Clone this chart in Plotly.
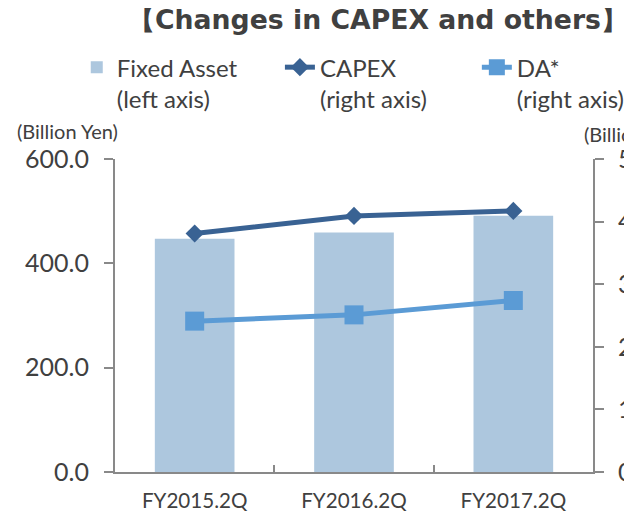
import plotly.graph_objects as go

periods = ["FY2015.2Q", "FY2016.2Q", "FY2017.2Q"]
fixed_asset = [447, 459, 491]   # left axis, billion yen
capex = [38.1, 40.9, 41.7]      # right axis, billion yen
da = [24.1, 25.1, 27.4]         # right axis, billion yen

left_ticks = [0, 200, 400, 600]
right_ticks = [0, 10, 20, 30, 40, 50]

FONT = "Lato"
GREY = "#404040"
AXIS = "#898989"

# the page body adds an 8px margin, so the figure is 8px smaller than the window
W, H = 624, 506

fig = go.Figure()

fig.add_trace(go.Bar(
    x=periods, y=fixed_asset,
    name="Fixed Asset<br>(left axis)",
    marker=dict(color="#ADC7DE", line=dict(width=0)),
    width=0.5,
    legend="legend",
))

fig.add_trace(go.Scatter(
    x=periods, y=capex,
    name="CAPEX<br>(right axis)",
    mode="lines+markers",
    line=dict(color="#396293", width=5),
    marker=dict(symbol="diamond", size=14, color="#396293"),
    yaxis="y2",
    legend="legend2",
))

fig.add_trace(go.Scatter(
    x=periods, y=da,
    name="DA*<br>(right axis)",
    mode="lines+markers",
    line=dict(color="#5B9BD5", width=5),
    marker=dict(symbol="square", size=19, color="#5B9BD5"),
    yaxis="y2",
    legend="legend3",
))

# one legend box per series so each entry sits where the original has it
def legend_box(x):
    return dict(
        x=x, xanchor="left", y=1.364, yanchor="top",
        font=dict(family=FONT, size=24, color=GREY),
        valign="top", bgcolor="rgba(0,0,0,0)",
    )

fig.update_layout(
    width=W, height=H,
    margin=dict(l=107, r=39, t=151, b=42, autoexpand=False),
    plot_bgcolor="white", paper_bgcolor="white",
    font=dict(family=FONT, color=GREY),
    title=dict(
        text="<b>【Changes in CAPEX and others】</b>",
        font=dict(family="DejaVu Sans", size=26.7, color=GREY),
        x=370 / W, xanchor="center", xref="container",
        y=1 - 12 / H, yanchor="middle", yref="container",
    ),
    showlegend=True,
    legend=legend_box(-0.08),
    legend2=legend_box(0.345),
    legend3=legend_box(0.757),
    xaxis=dict(
        range=[-0.5, 2.5], automargin=False,
        showline=True, linecolor=AXIS, linewidth=2,
        ticks="inside", tickson="boundaries", ticklen=7,
        tickcolor=AXIS, tickwidth=2,
        ticklabelstandoff=9,
        tickfont=dict(family=FONT, size=20.6, color=GREY),
        showgrid=False, zeroline=False,
    ),
    yaxis=dict(
        range=[0, 600], tickvals=left_ticks, tickformat=".1f",
        automargin=False,
        showline=True, linecolor=AXIS, linewidth=2,
        ticks="outside", ticklen=9, tickcolor=AXIS, tickwidth=2,
        ticklabelstandoff=10,
        tickfont=dict(family=FONT, size=25, color=GREY),
        showgrid=False, zeroline=False,
    ),
    yaxis2=dict(
        range=[0, 50], tickvals=right_ticks, tickformat=".1f",
        overlaying="y", side="right", automargin=False,
        showline=True, linecolor=AXIS, linewidth=2,
        ticks="outside", ticklen=9, tickcolor=AXIS, tickwidth=2,
        ticklabelstandoff=9,
        tickfont=dict(family=FONT, size=25, color=GREY),
        showgrid=False, zeroline=False,
    ),
    annotations=[
        dict(text="(Billion Yen)", xref="paper", yref="paper",
             x=-0.1, y=1.09, xanchor="center", yanchor="middle",
             showarrow=False, font=dict(family=FONT, size=20, color=GREY)),
        dict(text="(Billion Yen)", xref="paper", yref="paper",
             x=0.977, y=1.079, xanchor="left", yanchor="middle",
             showarrow=False, font=dict(family=FONT, size=20, color=GREY)),
    ],
)

fig.write_html("out.html")
